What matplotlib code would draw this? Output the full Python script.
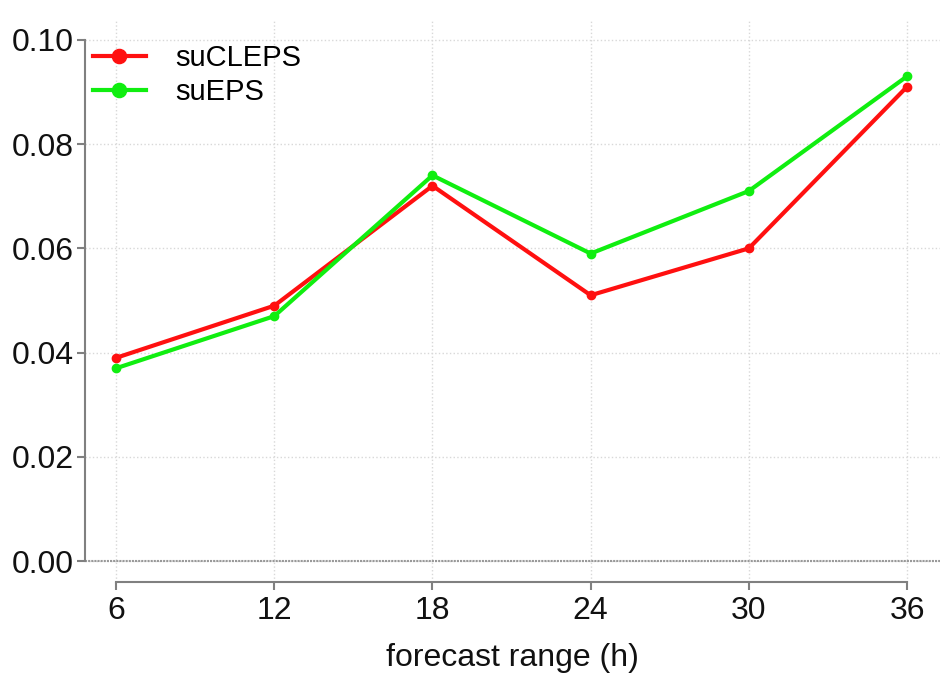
import matplotlib
matplotlib.use("Agg")
import matplotlib.pyplot as plt

hours = [6, 12, 18, 24, 30, 36]
sucleps = [0.039, 0.049, 0.072, 0.051, 0.060, 0.091]
sueps = [0.037, 0.047, 0.074, 0.059, 0.071, 0.093]
yticks = [0.00, 0.02, 0.04, 0.06, 0.08, 0.10]
ytick_labels = ["0.00", "0.02", "0.04", "0.06", "0.08", "0.10"]

plt.rcParams['font.family'] = ['Liberation Sans', 'DejaVu Sans']

fig = plt.figure(figsize=(9.52, 6.73), dpi=100)
W, H = 952, 673
left, right, top, bottom = 85, 940, 20, 582
ax = fig.add_axes([left / W, 1 - bottom / H, (right - left) / W, (bottom - top) / H])

ax.set_xlim(4.82, 37.25)
ax.set_ylim(-0.004, 0.1038)

ax.grid(True, color='#d8d8d8', linestyle=':', linewidth=1.0)
ax.set_axisbelow(True)
ax.axhline(0, color='#999999', linestyle=(0, (1, 0.5)), linewidth=1.5, zorder=1)

ax.plot(hours, sucleps, color='#ff1010', linewidth=3, marker='o', markersize=6, label='suCLEPS', zorder=3)
ax.plot(hours, sueps, color='#10ee10', linewidth=3, marker='o', markersize=6, label='suEPS', zorder=3)

for s in ['top', 'right']:
    ax.spines[s].set_visible(False)
ax.spines['left'].set_bounds(0, 0.10)
ax.spines['bottom'].set_bounds(6, 36)
ax.spines['left'].set_color('#808080')
ax.spines['bottom'].set_color('#808080')
ax.spines['left'].set_linewidth(1.5)
ax.spines['bottom'].set_linewidth(1.5)

ax.set_xticks(hours)
ax.set_xticklabels([str(h) for h in hours])
ax.set_yticks(yticks)
ax.set_yticklabels(ytick_labels)
ax.tick_params(axis='both', labelsize=23, color='#808080', width=1.5, length=6, labelcolor='#111111')
ax.tick_params(axis='x', pad=4)
ax.tick_params(axis='y', pad=2)

ax.set_xlabel('forecast range (h)', fontsize=23, color='#111111', labelpad=12)

leg = ax.legend(loc='upper left', bbox_to_anchor=(-0.004, 0.978), frameon=False, fontsize=21,
                markerscale=1.7, handlelength=1.8, handletextpad=1.0, labelspacing=0.2,
                borderaxespad=0.1, borderpad=0.3)

fig.savefig('out.png', dpi=100)
